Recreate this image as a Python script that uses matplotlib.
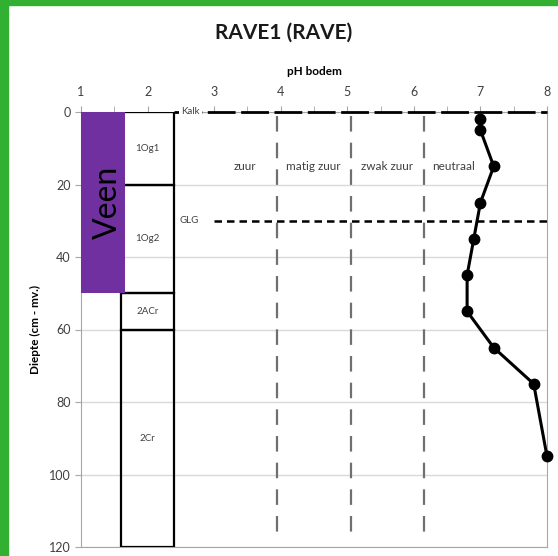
import matplotlib.pyplot as plt
from matplotlib.patches import Rectangle

plt.rcParams['font.family'] = ['Lato', 'DejaVu Sans']

# pH measurements per depth (cm below surface)
depth = [2, 5, 15, 25, 35, 45, 55, 65, 75, 95]
ph = [7.0, 7.0, 7.2, 7.0, 6.9, 6.8, 6.8, 7.2, 7.8, 8.0]

# soil horizons: name, top, bottom
horizons = ['1Og1', '1Og2', '2ACr', '2Cr']
hor_top = [0, 20, 50, 60]
hor_bot = [20, 50, 60, 120]

# acidity classes and their borders
class_names = ['zuur', 'matig zuur', 'zwak zuur', 'neutraal']
class_pos = [3.46, 4.49, 5.59, 6.59]
class_borders = [3.95, 5.05, 6.15]

glg_depth = 30
veen_top, veen_bot = 0, 50

fig = plt.figure(figsize=(5.58, 5.56), dpi=100)
# green frame around the slide
fig.patches.append(Rectangle((0, 0), 8 / 558, 1, transform=fig.transFigure,
                             color='#32B032', zorder=0))
fig.patches.append(Rectangle((0, 1 - 5 / 556), 1, 5 / 556, transform=fig.transFigure,
                             color='#32B032', zorder=0))

ax = fig.add_axes([81 / 558, 9 / 556, 466 / 558, 435 / 556])
ax.set_xlim(1, 8)
ax.set_ylim(120, 0)
ax.xaxis.tick_top()
ax.xaxis.set_label_position('top')
ax.set_xticks(range(1, 9))
ax.set_xticks([x + 0.5 for x in range(1, 8)], minor=True)
ax.set_yticks(range(0, 121, 20))
ax.tick_params(axis='both', which='both', color='#a6a6a6', length=4,
               labelsize=9, labelcolor='#404040')
ax.tick_params(axis='x', pad=6)
ax.grid(axis='y', color='#d9d9d9', linewidth=1)
ax.set_axisbelow(True)
for s in ax.spines.values():
    s.set_color('#a6a6a6')

ax.set_xlabel('pH bodem', fontsize=8.5, fontweight='bold', labelpad=8)
ax.set_ylabel('Diepte (cm - mv.)', fontsize=8.5, fontweight='bold')
ax.yaxis.set_label_coords(-0.086, 0.5)
fig.text(284 / 558, 1 - 33 / 556, 'RAVE1 (RAVE)', fontsize=15, fontweight='bold',
         ha='center', va='center', color='#1a1a1a')

# horizon column
for name, t, b in zip(horizons, hor_top, hor_bot):
    ax.add_patch(Rectangle((1.6, t), 0.8, b - t, fill=False, edgecolor='black',
                           linewidth=1.6, zorder=3))
    ax.text(2.0, t + (b - t) / 2 if name != '1Og2' else 35, name, fontsize=7,
            color='#404040', ha='center', va='center', zorder=4)

# peat layer
ax.add_patch(Rectangle((1, veen_top), 0.66, veen_bot - veen_top,
                       facecolor='#7030A0', edgecolor='none', zorder=5))
ax.text(1.41, 25, 'Veen', rotation=90, fontsize=23, ha='center', va='center',
        color='black', zorder=6)

# class borders
for x in class_borders:
    ax.plot([x, x], [1, 118], color='#6f6f6f', linewidth=1.6,
            linestyle=(0, (7, 5)), zorder=2)
for name, x in zip(class_names, class_pos):
    ax.text(x, 15, name, fontsize=8.5, color='#404040', ha='center', va='center',
            bbox=dict(facecolor='white', edgecolor='none', pad=1), zorder=3)

# lime line and groundwater level
ax.plot([2.4, 8], [0, 0], color='black', linewidth=2, linestyle=(0, (10, 2)),
        zorder=4, clip_on=False)
ax.text(2.645, 0, 'Kalk', fontsize=7, color='#404040', ha='center', va='center',
        bbox=dict(facecolor='white', edgecolor='none', pad=1.5), zorder=6,
        clip_on=False)
ax.plot([3.0, 8], [glg_depth, glg_depth], color='black', linewidth=1.8,
        linestyle=(0, (3, 2)), zorder=4)
ax.text(2.63, glg_depth, 'GLG', fontsize=7, color='#404040', ha='center',
        va='center', zorder=6)

# pH profile
ax.plot(ph, depth, color='black', linewidth=2.2, marker='o', markersize=7.5,
        zorder=7, clip_on=False)

fig.savefig('out.png', dpi=100)
